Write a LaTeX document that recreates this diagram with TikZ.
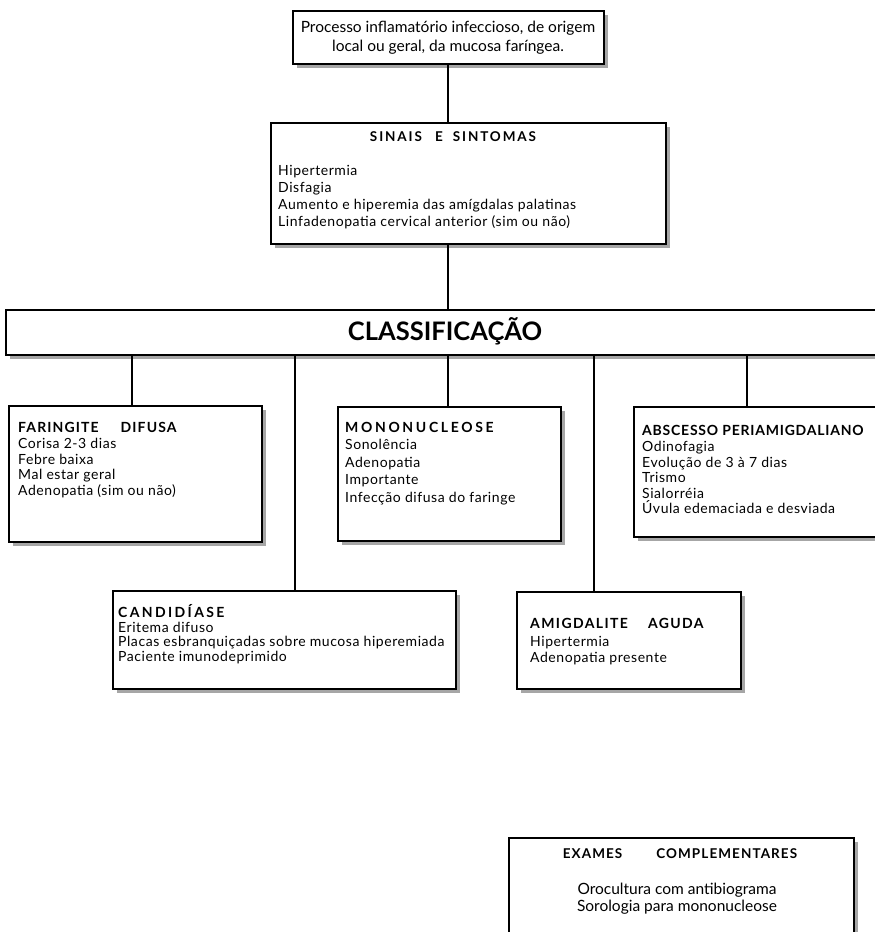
\documentclass[tikz,border=0pt]{standalone}
\usepackage{fontspec}
\setmainfont{Lato}
\usetikzlibrary{shadows}
% body text: slightly tracked
\newcommand\bodyfont[2]{\fontsize{#1}{#2}\selectfont\addfontfeature{LetterSpace=4}}
% heading text: bold, optional letter spacing
\newcommand\hd[2][0]{{\bfseries\addfontfeature{LetterSpace=#1}#2}}
\begin{document}
\begin{tikzpicture}[x=1pt,y=-1pt,
  frame/.style={draw, line width=1.8pt, fill=white, inner sep=0pt, anchor=north west,
    general shadow={fill=black!35, shadow xshift=4.5pt, shadow yshift=-4.5pt}},
  link/.style={line width=1.5pt},
  body/.style={inner sep=0pt, align=left, anchor=north west, font=\bodyfont{14}{15.5}},
  bodyc/.style={inner sep=0pt, align=center, anchor=north, font=\fontsize{15.5}{19}\selectfont},
  title/.style={inner sep=0pt, font=\fontsize{13.5}{15}\selectfont}]
\useasboundingbox (0,0) rectangle (875,932);
\clip (0,0) rectangle (875,932);
\fill[white] (0,0) rectangle (875,932);

% frames
\node[frame, minimum width=311pt, minimum height=53pt] (top) at (292,10) {};
\node[frame, minimum width=395pt, minimum height=121pt] (sin) at (270,122) {};
\node[frame, minimum width=880pt, minimum height=45pt] (cls) at (5,309) {};
\node[frame, minimum width=253pt, minimum height=136pt] (fd) at (8,405) {};
\node[frame, minimum width=223pt, minimum height=134pt] (mono) at (337,406) {};
\node[frame, minimum width=250pt, minimum height=130pt] (abs) at (633,406) {};
\node[frame, minimum width=343pt, minimum height=98pt] (cand) at (112,590) {};
\node[frame, minimum width=224pt, minimum height=97pt] (amig) at (516,591) {};
\node[frame, minimum width=345pt, minimum height=110pt] (exa) at (508,837) {};

% branch positions
\coordinate (stem) at (448,0);
\coordinate (b1) at (132,0);
\coordinate (b2) at (295,0);
\coordinate (b3) at (448,0);
\coordinate (b4) at (594,0);
\coordinate (b5) at (747,0);

% connectors
\draw[link] (top.south -| stem) -- (sin.north -| stem);
\draw[link] (sin.south -| stem) -- (cls.north -| stem);
\draw[link] (cls.south -| b1) -- (fd.north -| b1);
\draw[link] (cls.south -| b2) -- (cand.north -| b2);
\draw[link] (cls.south -| b3) -- (mono.north -| b3);
\draw[link] (cls.south -| b4) -- (amig.north -| b4);
\draw[link] (cls.south -| b5) -- (abs.north -| b5);

% texts
\node[bodyc] (toptxt) at (448,20.5) {Processo inflamatório infeccioso, de origem\\ local ou geral, da mucosa faríngea.};

\node[title] (sintit) at (453,137) {\hd[14]{SINAIS\hspace{13pt}E\hspace{10pt}SINTOMAS}};
\node[body, font=\bodyfont{14}{17}] (sintxt) at (278,165) {Hipertermia\\ Disfagia\\ Aumento e hiperemia das amígdalas palatinas\\ Linfadenopatia cervical anterior (sim ou não)};

\node[inner sep=0pt, font=\fontsize{25.5}{28}\selectfont] (clstxt) at (445,331) {\hd{CLASSIFICAÇÃO}};

\node[body] (fdtxt) at (18,422) {\hd[8]{FARINGITE\hspace{22pt}DIFUSA}\\[1pt] Corisa 2-3 dias\\ Febre baixa\\ Mal estar geral\\ Adenopatia (sim ou não)};
\node[body, font=\bodyfont{14}{17.5}] (monotxt) at (345,422) {\hd[19]{MONONUCLEOSE}\\ Sonolência\\ Adenopatia\\ Importante\\ Infecção difusa do faringe};
\node[body] (abstxt) at (642,425) {\hd[5.5]{ABSCESSO PERIAMIGDALIANO}\\[1pt] Odinofagia\\ Evolução de 3 à 7 dias\\ Trismo\\ Sialorréia\\ Úvula edemaciada e desviada};
\node[body, font=\bodyfont{14}{14.5}] (candtxt) at (118,604.5) {\hd[17]{CANDIDÍASE}\\ Eritema difuso\\ Placas esbranquiçadas sobre mucosa hiperemiada\\ Paciente imunodeprimido};
\node[body, font=\bodyfont{14}{16.5}] (amigtxt) at (530,618) {\hd[10]{AMIGDALITE\hspace{20pt}AGUDA}\\[1.5pt] Hipertermia\\ Adenopatia presente};

\node[title] (exatit) at (680,854) {\hd[8]{EXAMES\hspace{34pt}COMPLEMENTARES}};
\node[bodyc, font=\fontsize{15.5}{17}\selectfont] (exatxt) at (677,882.5) {Orocultura com antibiograma\\ Sorologia para mononucleose};
\end{tikzpicture}
\end{document}
